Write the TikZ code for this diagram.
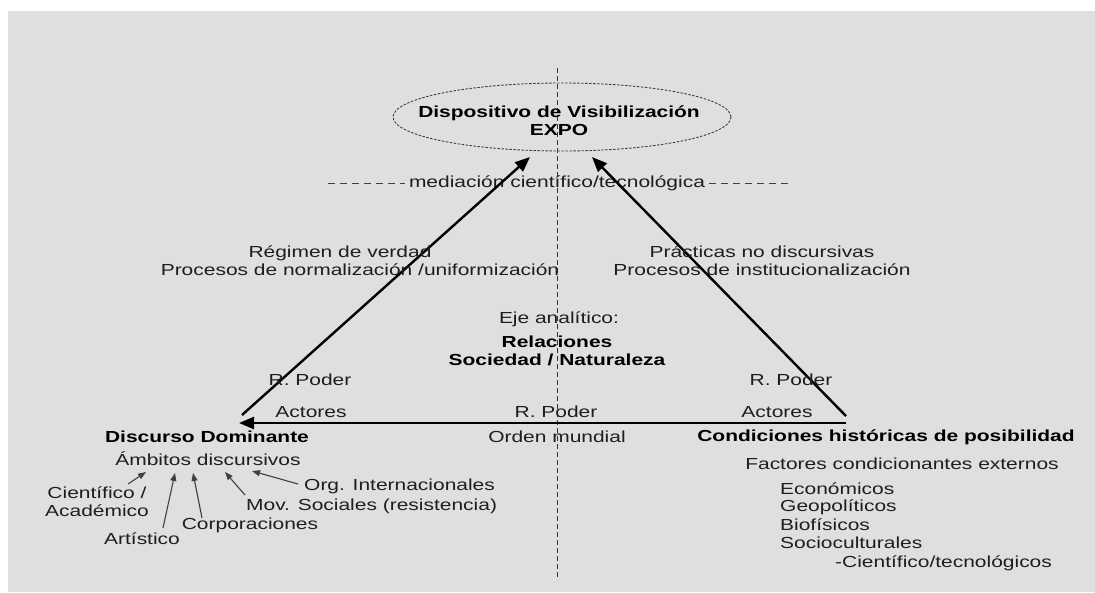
\documentclass[tikz,border=0pt]{standalone}
\usepackage{fontspec}
\setmainfont[FakeStretch=1.31]{Liberation Sans}
\usetikzlibrary{positioning,calc}
\usetikzlibrary{arrows.meta,shapes.geometric}
\definecolor{PanelGray}{RGB}{223,223,223}
\definecolor{InkGray}{RGB}{30,30,30}
\tikzset{
  txt/.style={text=InkGray,inner sep=1pt,font=\fontsize{16}{18}\selectfont,align=center},
  head/.style={txt,text=black,font=\fontsize{16}{18}\selectfont\bfseries},
  axis/.style={draw=black!80,line width=1pt,dash pattern=on 5pt off 3pt},
  rule/.style={draw=black!75,line width=1pt,dash pattern=on 7pt off 5pt},
  flow/.style={draw=black,line width=2.4pt,-{Triangle[length=15pt,width=12pt]}},
  feed/.style={draw=black!75,line width=1.1pt,-{Triangle[length=8pt,width=6pt]}},
}
\tikzset{rim/.style={ellipse,draw=black!75,line width=0.9pt,dash pattern=on 2.5pt off 1.5pt,inner sep=0pt,minimum width=338pt,minimum height=68pt}}

\begin{document}
\begin{tikzpicture}[x=1pt,y=-1pt]
\useasboundingbox (0,0) rectangle (1095,592);
\fill[white] (0,0) rectangle (1095,592);
\fill[PanelGray] (8,11) rectangle (1095,592);
% eje vertical
\coordinate (vtop) at (557,68);
\coordinate (vbot) at (557,580);
\draw[axis] (vtop) -- (vbot);
% dispositivo
\node[rim] (expo) at (562,117) {};
\node[head] (expolab) at (559,121) {Dispositivo de Visibilización\\EXPO};
% mediacion
\node[txt,inner xsep=4pt] (med) at (557,183) {mediación científico/tecnológica};
\coordinate (mleft) at (328,183);
\coordinate (mright) at (793,183);
\draw[rule] (mleft) -- (med.west);
\draw[rule] (med.east) -- (mright);
% vertices
\coordinate (dd) at (242,415);
\coordinate (bl) at (239,423);
\coordinate (cc) at (846,416);
\coordinate (br) at (846,423);
\coordinate (ta) at (530,157);
\coordinate (tb) at (592,157);
\draw[flow] (dd) -- (ta);
\draw[flow] (cc) -- (tb);
\draw[flow] (br) -- (bl);
% lados
\node[txt] (regimen) at (340,253) {Régimen de verdad};
\node[txt] (normal) at (360,270) {Procesos de normalización /uniformización};
\node[txt] (practicas) at (762,252) {Prácticas no discursivas};
\node[txt] (instit) at (762,270) {Procesos de institucionalización};
% centro
\node[txt] (eje) at (559,319) {Eje analítico:};
\node[head] (relac) at (557,351) {Relaciones\\Sociedad / Naturaleza};
\node[txt] (poderl) at (310,380) {R. Poder};
\node[txt] (actl) at (311,412) {Actores};
\node[txt] (poderm) at (556,412) {R. Poder};
\node[txt] (poderr) at (791,380) {R. Poder};
\node[txt] (actr) at (777,412) {Actores};
\node[txt] (orden) at (557,437) {Orden mundial};
% discurso dominante
\node[head] (discurso) at (207,437) {Discurso Dominante};
\node[txt] (ambitos) at (208,459) {Ámbitos discursivos};
\node[txt] (cient) at (97,502) {Científico /\\Académico};
\node[txt] (artis) at (142,539) {Artístico};
\node[txt] (corpo) at (250,525) {Corporaciones};
\node[txt,anchor=west] (movs) at (245,506) {Mov. Sociales (resistencia)};
\node[txt,anchor=west] (orgi) at (303,486) {Org. Internacionales};
\coordinate (a1) at (146,472);
\coordinate (a2) at (175,473);
\coordinate (a3) at (193,473);
\coordinate (a4) at (225,472);
\coordinate (a5) at (252,471);
\coordinate (s1) at (128,484);
\coordinate (s2) at (163,528);
\coordinate (s3) at (202,518);
\coordinate (s4) at (245,495);
\coordinate (s5) at (298,484);
\draw[feed] (s1) -- (a1);
\draw[feed] (s2) -- (a2);
\draw[feed] (s3) -- (a3);
\draw[feed] (s4) -- (a4);
\draw[feed] (s5) -- (a5);
% condiciones
\node[head] (condic) at (886,437) {Condiciones históricas de posibilidad};
\node[txt] (factores) at (902,464) {Factores condicionantes externos};
\node[txt,anchor=west] (econ) at (779,489) {Económicos};
\node[txt,anchor=west] (geop) at (779,507) {Geopolíticos};
\node[txt,anchor=west] (biof) at (779,525) {Biofísicos};
\node[txt,anchor=west] (socio) at (779,543) {Socioculturales};
\node[txt,anchor=west] (tecno) at (834,563) {-Científico/tecnológicos};
\end{tikzpicture}
\end{document}
